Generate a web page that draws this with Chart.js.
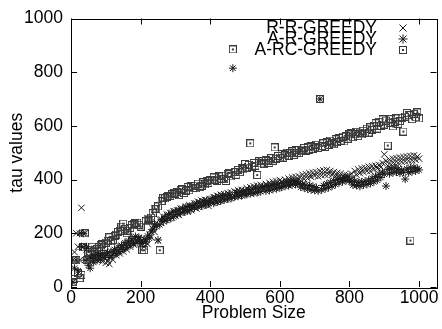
<!DOCTYPE html>
<html lang="en">
  <head>
    <meta charset="UTF-8" />
    <title>tau values vs Problem Size</title>
    <script src="https://cdn.jsdelivr.net/npm/chart.js"></script>
    <style>
      body {
        margin: 0;
        background: #ffffff;
      }
      .chart-box {
        width: 442px;
        height: 329px;
      }
    </style>
  </head>
  <body>
    <div class="chart-box">
      <canvas id="tauChart"></canvas>
    </div>

    <script>
      // problem sizes (x)
      const sizes = [
        5, 10, 15, 20, 25, 30, 35, 40, 45, 50,
        55, 60, 65, 70, 75, 80, 85, 90, 95, 100,
        105, 110, 115, 120, 125, 130, 135, 140, 145, 150,
        155, 160, 165, 170, 175, 180, 185, 190, 195, 200,
        205, 210, 215, 220, 225, 230, 235, 240, 245, 250,
        255, 260, 265, 270, 275, 280, 285, 290, 295, 300,
        305, 310, 315, 320, 325, 330, 335, 340, 345, 350,
        355, 360, 365, 370, 375, 380, 385, 390, 395, 400,
        405, 410, 415, 420, 425, 430, 435, 440, 445, 450,
        455, 460, 465, 470, 475, 480, 485, 490, 495, 500,
        505, 510, 515, 520, 525, 530, 535, 540, 545, 550,
        555, 560, 565, 570, 575, 580, 585, 590, 595, 600,
        605, 610, 615, 620, 625, 630, 635, 640, 645, 650,
        655, 660, 665, 670, 675, 680, 685, 690, 695, 700,
        705, 710, 715, 720, 725, 730, 735, 740, 745, 750,
        755, 760, 765, 770, 775, 780, 785, 790, 795, 800,
        805, 810, 815, 820, 825, 830, 835, 840, 845, 850,
        855, 860, 865, 870, 875, 880, 885, 890, 895, 900,
        905, 910, 915, 920, 925, 930, 935, 940, 945, 950,
        955, 960, 965, 970, 975, 980, 985, 990, 995, 1000,
      ];

      // tau values
      const rrGreedy = [
        100, 130, 200, 150, 100, 295, 150, 200, 140, 100,
        112, 98, 120, 104, 125, 100, 118, 95, 108, 90,
        98, 86, 115, 102, 130, 118, 135, 125, 150, 132,
        158, 140, 165, 150, 175, 158, 180, 165, 182, 160,
        172, 150, 175, 160, 195, 185, 218, 205, 240, 173,
        252, 238, 262, 250, 270, 255, 276, 258, 282, 266,
        285, 268, 292, 276, 288, 300, 280, 305, 286, 298,
        312, 292, 318, 300, 322, 305, 325, 310, 302, 328,
        315, 335, 318, 340, 322, 344, 328, 346, 326, 350,
        332, 352, 336, 356, 342, 360, 340, 362, 348, 358,
        368, 350, 372, 355, 375, 352, 378, 360, 380, 362,
        365, 384, 368, 388, 372, 392, 370, 395, 378, 398,
        392, 380, 400, 385, 404, 388, 408, 392, 410, 396,
        412, 396, 418, 402, 420, 405, 424, 410, 426, 414,
        428, 412, 432, 416, 434, 418, 436, 420, 432, 418,
        428, 412, 425, 408, 422, 404, 418, 400, 415, 398,
        422, 408, 432, 418, 438, 424, 442, 428, 444, 432,
        448, 432, 450, 438, 452, 442, 455, 446, 462, 494,
        470, 452, 474, 456, 478, 460, 480, 462, 482, 466,
        484, 468, 486, 470, 488, 472, 490, 474, 486, 478,
      ];
      const arGreedy = [
        18, 70, 100, 60, 200, 150, 200, 100, 150, 81,
        70, 108, 92, 115, 100, 120, 105, 125, 110, 118,
        128, 110, 132, 118, 140, 125, 148, 132, 155, 140,
        165, 148, 172, 155, 180, 162, 188, 168, 185, 170,
        162, 178, 168, 190, 182, 205, 215, 232, 225, 175,
        232, 252, 244, 262, 248, 270, 255, 278, 262, 282,
        270, 288, 275, 292, 280, 298, 284, 300, 288, 304,
        295, 312, 298, 316, 302, 320, 306, 322, 310, 318,
        330, 312, 334, 316, 338, 320, 340, 324, 342, 328,
        345, 330, 815, 336, 352, 338, 355, 340, 358, 345,
        345, 362, 348, 365, 350, 368, 352, 370, 355, 372,
        375, 358, 378, 360, 380, 364, 382, 366, 384, 370,
        372, 388, 375, 392, 378, 394, 380, 396, 382, 392,
        385, 372, 382, 368, 380, 365, 378, 362, 375, 360,
        370, 358, 700, 362, 378, 366, 384, 370, 390, 376,
        396, 382, 400, 388, 404, 392, 408, 396, 410, 398,
        392, 380, 395, 378, 390, 375, 392, 380, 394, 382,
        398, 386, 405, 392, 412, 398, 420, 408, 428, 420,
        376, 438, 422, 442, 426, 444, 428, 440, 424, 436,
        428, 402, 440, 426, 444, 430, 446, 432, 442, 436,
      ];
      const arcGreedy = [
        18, 30, 100, 52, 33, 45, 148, 200, 100, 130,
        120, 150, 135, 130, 140, 148, 155, 160, 150, 165,
        172, 185, 170, 175, 190, 195, 205, 210, 225, 236,
        215, 200, 210, 220, 230, 235, 238, 240, 232, 225,
        137, 137, 245, 255, 250, 258, 275, 292, 290, 300,
        137, 320, 332, 330, 335, 338, 340, 345, 350, 347,
        352, 342, 362, 365, 350, 358, 372, 360, 375, 368,
        378, 368, 385, 372, 377, 390, 382, 395, 388, 398,
        398, 408, 400, 395, 412, 404, 415, 402, 395, 420,
        425, 412, 885, 428, 418, 436, 428, 442, 438, 458,
        445, 455, 535, 448, 462, 452, 417, 468, 460, 470,
        458, 472, 469, 462, 480, 470, 520, 478, 488, 482,
        495, 482, 490, 500, 488, 498, 505, 492, 510, 500,
        498, 512, 505, 518, 508, 520, 512, 525, 515, 520,
        530, 518, 700, 525, 535, 522, 540, 530, 545, 535,
        532, 550, 540, 555, 545, 560, 542, 562, 552, 568,
        572, 558, 568, 578, 562, 575, 568, 582, 575, 590,
        575, 595, 585, 600, 610, 590, 615, 600, 624, 605,
        620, 527, 612, 625, 598, 615, 628, 608, 618, 630,
        579, 635, 648, 640, 173, 625, 645, 632, 650, 628,
      ];

      const seriesNames = ["R-R-GREEDY", "A-R-GREEDY", "A-RC-GREEDY"];
      const tickValues = [0, 200, 400, 600, 800, 1000];

      const FONT = "Liberation Sans, Arial, Helvetica, sans-serif";
      const FONT_SIZE = 17.5;
      const INK = "#1a1a1a";

      // square-with-a-dot marker, like gnuplot's point type 12
      const boxDot = document.createElement("canvas");
      boxDot.width = 8;
      boxDot.height = 8;
      (() => {
        const c = boxDot.getContext("2d");
        c.strokeStyle = "#3a3a3a";
        c.lineWidth = 1;
        c.strokeRect(0.5, 0.5, 7, 7);
        c.fillStyle = "#3a3a3a";
        c.fillRect(3, 3, 2, 2);
      })();

      const toPoints = (vals) => vals.map((v, i) => ({ x: sizes[i], y: v }));

      // frame with inward ticks on all sides
      const framePlugin = {
        id: "frame",
        beforeDatasetsDraw(chart) {
          const { ctx, chartArea: a, scales } = chart;
          ctx.save();
          ctx.strokeStyle = "#000";
          ctx.lineWidth = 1;
          ctx.strokeRect(
            Math.round(a.left) + 0.5,
            Math.round(a.top) + 0.5,
            Math.round(a.right - a.left),
            Math.round(a.bottom - a.top)
          );
          const len = 6;
          ctx.beginPath();
          tickValues.forEach((v) => {
            const px = Math.round(scales.x.getPixelForValue(v)) + 0.5;
            ctx.moveTo(px, a.bottom);
            ctx.lineTo(px, a.bottom - len);
            ctx.moveTo(px, a.top);
            ctx.lineTo(px, a.top + len);
            const py = Math.round(scales.y.getPixelForValue(v)) + 0.5;
            ctx.moveTo(a.left, py);
            ctx.lineTo(a.left + len, py);
            ctx.moveTo(a.right, py);
            ctx.lineTo(a.right - len, py);
          });
          ctx.stroke();
          ctx.restore();
        },
      };

      // gnuplot style key: right aligned text, sample marker to the right
      const keyPlugin = {
        id: "key",
        afterDatasetsDraw(chart) {
          const { ctx } = chart;
          const textX = 377;
          const markX = 403;
          const rows = [28, 39, 50];
          ctx.save();
          ctx.font = FONT_SIZE + "px " + FONT;
          ctx.fillStyle = "#000";
          ctx.textAlign = "right";
          ctx.textBaseline = "middle";
          seriesNames.forEach((name, i) => {
            ctx.fillText(name, textX, rows[i]);
          });
          ctx.strokeStyle = INK;
          ctx.lineWidth = 1;
          // cross
          let y = rows[0];
          ctx.beginPath();
          ctx.moveTo(markX - 3.5, y - 3.5);
          ctx.lineTo(markX + 3.5, y + 3.5);
          ctx.moveTo(markX - 3.5, y + 3.5);
          ctx.lineTo(markX + 3.5, y - 3.5);
          // star
          y = rows[1];
          ctx.moveTo(markX - 3.5, y - 3.5);
          ctx.lineTo(markX + 3.5, y + 3.5);
          ctx.moveTo(markX - 3.5, y + 3.5);
          ctx.lineTo(markX + 3.5, y - 3.5);
          ctx.moveTo(markX - 4.5, y);
          ctx.lineTo(markX + 4.5, y);
          ctx.moveTo(markX, y - 4.5);
          ctx.lineTo(markX, y + 4.5);
          ctx.stroke();
          ctx.drawImage(boxDot, markX - 4, rows[2] - 4);
          ctx.restore();
        },
      };

      const ctx = document.getElementById("tauChart").getContext("2d");
      new Chart(ctx, {
        type: "scatter",
        data: {
          datasets: [
            {
              label: seriesNames[0],
              data: toPoints(rrGreedy),
              pointStyle: "crossRot",
              radius: 4.5,
              borderColor: INK,
              borderWidth: 1,
            },
            {
              label: seriesNames[1],
              data: toPoints(arGreedy),
              pointStyle: "star",
              radius: 4,
              borderColor: INK,
              borderWidth: 1,
            },
            {
              label: seriesNames[2],
              data: toPoints(arcGreedy),
              pointStyle: boxDot,
              borderColor: "#3a3a3a",
              borderWidth: 1,
            },
          ],
        },
        options: {
          responsive: true,
          maintainAspectRatio: false,
          animation: false,
          layout: {
            padding: { top: 16, right: 4, left: 0, bottom: 0 },
          },
          plugins: {
            legend: { display: false },
            tooltip: { enabled: false },
          },
          scales: {
            x: {
              type: "linear",
              min: 0,
              max: 1050,
              afterBuildTicks: (axis) => {
                axis.ticks = tickValues.map((v) => ({ value: v }));
              },
              afterFit: (axis) => {
                axis.height = 42;
              },
              grid: { display: false, drawTicks: false },
              border: { display: false },
              ticks: {
                color: "#000",
                padding: 1,
                maxRotation: 0,
                callback: (v) => String(v),
                font: { family: FONT, size: FONT_SIZE },
              },
              title: {
                display: true,
                text: "Problem Size",
                color: "#000",
                padding: { top: 0, bottom: 5 },
                font: { family: FONT, size: FONT_SIZE },
              },
            },
            y: {
              min: 0,
              max: 1000,
              afterBuildTicks: (axis) => {
                axis.ticks = tickValues.map((v) => ({ value: v }));
              },
              afterFit: (axis) => {
                axis.width = 71;
              },
              grid: { display: false, drawTicks: false },
              border: { display: false },
              ticks: {
                color: "#000",
                padding: 8,
                callback: (v) => String(v),
                font: { family: FONT, size: FONT_SIZE },
              },
              title: {
                display: true,
                text: "tau values",
                color: "#000",
                padding: { top: 7, bottom: 0 },
                font: { family: FONT, size: FONT_SIZE },
              },
            },
          },
        },
        plugins: [framePlugin, keyPlugin],
      });
    </script>
  </body>
</html>
